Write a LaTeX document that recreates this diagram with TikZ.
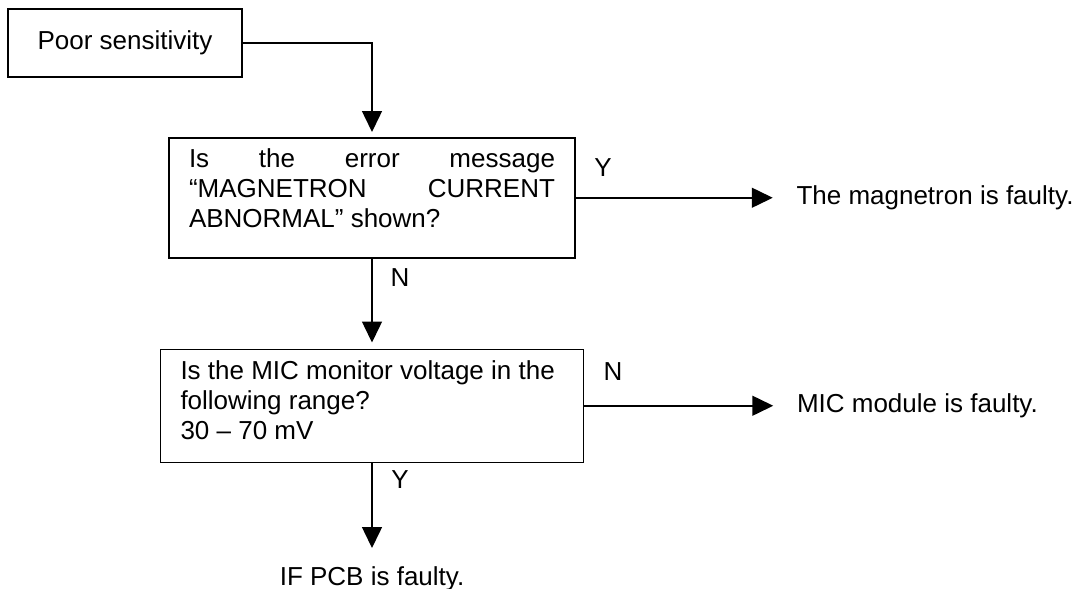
\documentclass[tikz,border=0pt]{standalone}
\usepackage{fontspec}
\setmainfont{Liberation Sans}
\usetikzlibrary{arrows.meta,positioning}

\begin{document}
\begin{tikzpicture}[
  x=1pt,y=-1pt,
  line width=1.5pt,
  every node/.style={font=\fontsize{26}{30}\selectfont},
  box/.style={draw,line width=1.5pt,inner sep=0pt},
  question/.style={box,align=flush left,inner xsep=20pt,inner ysep=0pt,text height=30pt},
  result/.style={inner sep=0pt},
  lbl/.style={inner sep=0pt},
  arrow/.style={-{Triangle[length=21pt,width=20pt]}}
]
\useasboundingbox (0,0) rectangle (1087,589);
\node[box,minimum width=234pt,minimum height=68pt] (start) at (125,43) {Poor sensitivity};
\node[question,text width=366pt,text depth=90pt,anchor=north] (q1) at (372,137)
  {Is\hfill the\hfill error\hfill message\\
   “MAGNETRON\hfill CURRENT\\
   ABNORMAL” shown?};
\node[question,text width=383pt,text depth=83pt,below=90pt of q1] (q2)
  {Is the MIC monitor voltage in the\\
   following range?\\
   30 – 70 mV};
\node[result,right=220pt of q1] (res1) {The magnetron is faulty.};
\node[result,right=212pt of q2] (res2) {MIC module is faulty.};
\node[result,below=103pt of q2] (res3) {IF PCB is faulty.};
% branch labels
\node[lbl] (yes1) at (603,168) {Y};
\node[lbl] (no1) at (400,278) {N};
\node[lbl] (no2) at (613,372) {N};
\node[lbl] (yes2) at (400,480) {Y};
\draw[arrow,shorten >=5pt] (start.east) -| (q1.north);
\draw[arrow,shorten >=6pt] (q1.south) -- (q2.north);
\draw[arrow,shorten >=23pt] (q1.east) -- (q1.east -| res1.west);
\draw[arrow,shorten >=23pt] (q2.east) -- (q2.east -| res2.west);
\draw[arrow,shorten >=18pt] (q2.south) -- (q2.south |- res3.north);
\end{tikzpicture}
\end{document}
